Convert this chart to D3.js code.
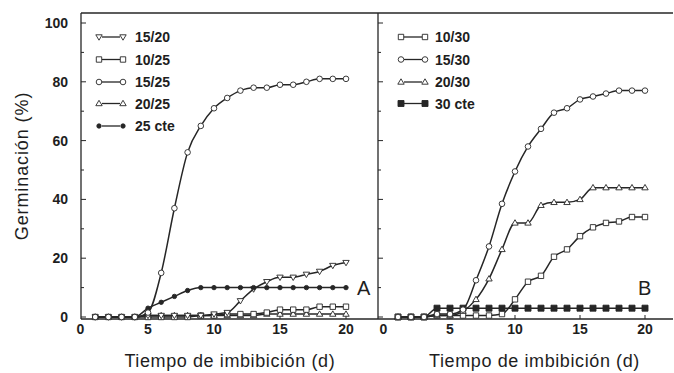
<!DOCTYPE html>
<html><head><meta charset="utf-8">
<script src="https://cdn.jsdelivr.net/npm/d3@7/dist/d3.min.js"></script>
<style>
html,body{margin:0;padding:0;background:#fff;}
svg{display:block;}
text{font-family:"Liberation Sans",Arial,Helvetica,sans-serif;fill:#1e1e1e;}
</style></head>
<body>
<svg id="chart" width="674" height="373"></svg>
<script>
// ---------- data ----------
const days = [1,2,3,4,5,6,7,8,9,10,11,12,13,14,15,16,17,18,19,20];
const xTicks = [0,5,10,15,20];
const yTicks = [0,20,40,60,80,100];
const yMinor = [10,30,50,70,90];

const seriesNamesA = ["15/20","10/25","15/25","20/25","25 cte"];
const A_15_20 = [0,0,0,0,0.5,0.5,0.5,0.5,0.5,1,1.5,5.5,9.5,12,13.5,13.5,14.5,15.5,17.5,18.5];
const A_10_25 = [0,0,0,0,0,0,0,0,0.5,0.5,1,1,1,1.5,2.5,2.5,2.5,3.5,3.5,3.5];
const A_15_25 = [0,0,0,0,1.5,15,37,56,65,71,74.5,77,78,78,79,79,80,81,81,81];
const A_20_25 = [0,0,0,0,0.5,0.5,0.5,0.5,0.5,0.5,0.5,0.5,0.5,1,1,1,1,1,1,1];
const A_25cte = [0,0,0,0,3,5,7,9,10,10,10,10,10,10,10,10,10,10,10,10];

const seriesNamesB = ["10/30","15/30","20/30","30 cte"];
const B_10_30 = [0,0,0,0.5,0.5,0.5,0.5,0.5,1,6,12,14,20.5,23,27.5,30.5,32,32.5,34,34];
const B_15_30 = [0,0,0,1,1,2.5,12.5,24,38.5,49.5,58,64,69.5,71,74,75,76,77,77,77];
const B_20_30 = [0,0,0,0.5,0.5,2,6,13,23,32,32,38,39,39,40,44,44,44,44,44];
const B_30cte = [0,0,0,3,3,3,3,3,3,3,3,3,3,3,3,3,3,3,3,3];

// ---------- layout ----------
const svg = d3.select("#chart");
const ink = "#262626";
const yTop = 13, yBot = 319, xLeftA = 81, xDiv = 378, xRight = 673;

const y = d3.scaleLinear().domain([0,100]).range([317,23]);
const xA = d3.scaleLinear().domain([0,20]).range([82,346]);
const xB = d3.scaleLinear().domain([0,20]).range([385,645]);

// symbol path generators (centered at 0,0)
const sym = {
  tridown: "M-3.2,-2.2L3.2,-2.2L0,3.2Z",
  triup: "M-3.2,2.2L3.2,2.2L0,-3.2Z",
  square: "M-2.7,-2.7H2.7V2.7H-2.7Z",
  circle: "M-2.8,0A2.8,2.8 0 1,0 2.8,0A2.8,2.8 0 1,0 -2.8,0Z",
  dot: "M-2.2,0A2.2,2.2 0 1,0 2.2,0A2.2,2.2 0 1,0 -2.2,0Z",
  fsquare: "M-3,-3H3V3H-3Z"
};
const filled = {tridown:false,triup:false,square:false,circle:false,dot:true,fsquare:true};

// frame
const frame = svg.append("g").attr("stroke", ink).attr("stroke-width", 1.3).attr("fill","none");
frame.append("line").attr("x1", xLeftA).attr("x2", xRight).attr("y1", yTop).attr("y2", yTop);
frame.append("line").attr("x1", xLeftA).attr("x2", xRight).attr("y1", yBot).attr("y2", yBot);
frame.append("line").attr("x1", xLeftA).attr("x2", xLeftA).attr("y1", yTop).attr("y2", yBot);
frame.append("line").attr("x1", xDiv).attr("x2", xDiv).attr("y1", yTop).attr("y2", yBot);

// y ticks (inward) for both panels
[xLeftA, xDiv].forEach(x0 => {
  svg.append("g").selectAll("line.maj").data(yTicks).join("line")
    .attr("x1", x0).attr("x2", x0+5).attr("y1", d=>y(d)).attr("y2", d=>y(d))
    .attr("stroke", ink).attr("stroke-width", 1);
  svg.append("g").selectAll("line.min").data(yMinor).join("line")
    .attr("x1", x0).attr("x2", x0+3).attr("y1", d=>y(d)).attr("y2", d=>y(d))
    .attr("stroke", ink).attr("stroke-width", 1);
});
// y tick labels
svg.append("g").selectAll("text").data(yTicks).join("text")
  .attr("x", 68).attr("y", d=>y(d)+5).attr("text-anchor","end")
  .attr("font-size", 14).attr("font-weight","bold").text(d=>d);

// x ticks + labels
[xA, xB].forEach(xs => {
  svg.append("g").selectAll("line").data(xTicks.filter(d=>d>0)).join("line")
    .attr("x1", d=>xs(d)).attr("x2", d=>xs(d)).attr("y1", yBot).attr("y2", yBot-4)
    .attr("stroke", ink).attr("stroke-width", 1);
  svg.append("g").selectAll("text").data(xTicks).join("text")
    .attr("x", d=> d===0 ? xs(d)-1.5 : xs(d)).attr("y", 334).attr("text-anchor","middle")
    .attr("font-size", 14).attr("font-weight","bold").text(d=>d);
});

// axis titles
svg.append("text").attr("x", xA(11.2)).attr("y", 367).attr("text-anchor","middle")
  .attr("font-size", 18).attr("letter-spacing", 0.6).text("Tiempo de imbibición (d)");
svg.append("text").attr("x", xB(11.5)).attr("y", 367).attr("text-anchor","middle")
  .attr("font-size", 18).attr("letter-spacing", 0.6).text("Tiempo de imbibición (d)");
svg.append("text").attr("transform", "translate(28,166) rotate(-90)").attr("text-anchor","middle")
  .attr("font-size", 18).attr("letter-spacing", 0.9).text("Germinación (%)");

// panel letters
svg.append("text").attr("x", 357).attr("y", 295).attr("font-size", 20).text("A");
svg.append("text").attr("x", 638).attr("y", 295).attr("font-size", 20).text("B");

// series
const line = d3.line().curve(d3.curveMonotoneX);
function drawSeries(xs, vals, shape) {
  const pts = days.map((d,i)=>[xs(d), y(vals[i])]);
  svg.append("path").attr("d", line(pts)).attr("fill","none")
    .attr("stroke", ink).attr("stroke-width", 1.5);
  svg.append("g").selectAll("path").data(pts).join("path")
    .attr("transform", p=>`translate(${p[0]},${p[1]})`)
    .attr("d", sym[shape])
    .attr("fill", filled[shape] ? ink : "#fff")
    .attr("stroke", ink).attr("stroke-width", 0.9);
}
const seriesA = [[A_20_25,"triup"],[A_10_25,"square"],[A_15_20,"tridown"],[A_25cte,"dot"],[A_15_25,"circle"]];
seriesA.forEach(s=>drawSeries(xA, s[0], s[1]));
const seriesB = [[B_30cte,"fsquare"],[B_10_30,"square"],[B_20_30,"triup"],[B_15_30,"circle"]];
seriesB.forEach(s=>drawSeries(xB, s[0], s[1]));

// legends
function legend(x1, x2, tx, names, shapes, rows) {
  names.forEach((n,i)=>{
    const cy = rows[i];
    svg.append("line").attr("x1", x1+3).attr("x2", x2-3).attr("y1", cy).attr("y2", cy)
      .attr("stroke", ink).attr("stroke-width", 1.3);
    [x1,x2].forEach(cx=>{
      svg.append("path").attr("transform", `translate(${cx},${cy})`).attr("d", sym[shapes[i]])
        .attr("fill", filled[shapes[i]] ? ink : "#fff").attr("stroke", ink).attr("stroke-width", 0.9);
    });
    svg.append("text").attr("x", tx).attr("y", cy+5).attr("font-size", 14)
      .attr("font-weight","bold").text(n);
  });
}
legend(99, 123, 135, seriesNamesA, ["tridown","square","circle","triup","dot"], [37,59.5,82,103.5,126]);
legend(401, 425, 435, seriesNamesB, ["square","circle","triup","fsquare"], [37,59.5,82,103.5]);
</script>
</body></html>
